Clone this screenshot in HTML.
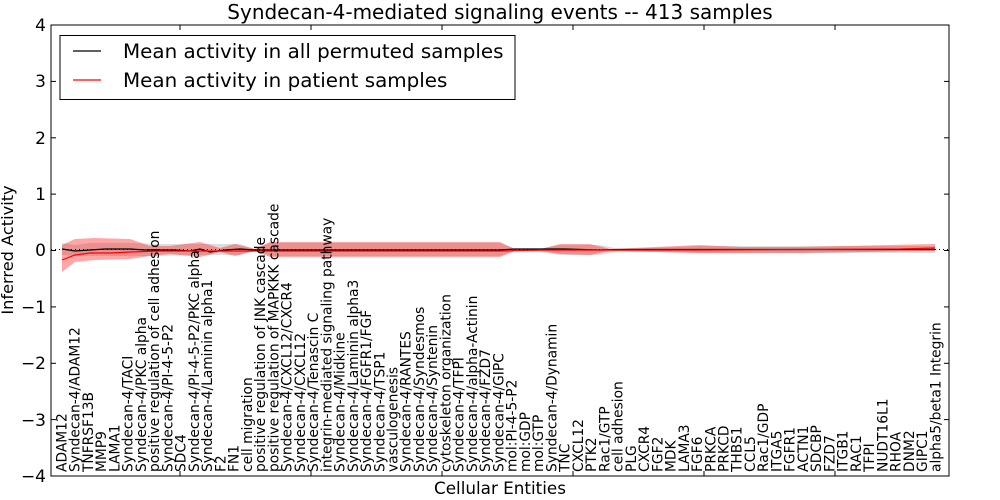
<!DOCTYPE html>
<html><head><meta charset="utf-8"><style>
html,body{margin:0;padding:0;background:#fff;}
svg{display:block;font-family:"DejaVu Sans","Liberation Sans",sans-serif;}
.xl text{font-size:13.8px;}
</style></head><body>
<svg width="1000" height="500" viewBox="0 0 1000 500">
<rect width="1000" height="500" fill="#fff"/>
<polygon fill="#bbbbbb" fill-opacity="0.5" points="62,243 75,245 90,243 130,243 160,244 200,244 240,244 255,249 270,243 500,243 515,249 540,249 560,245 600,245 620,249 700,246 935,246 935,253 700,253 620,251 600,255 560,255 540,252 515,251 500,256 270,256 255,250 240,255 200,255 160,256 130,256 90,256 75,256 62,255"/>
<polygon fill="#ff0000" fill-opacity="0.35" points="62,245 75,239 95,238 130,239 150,246 170,246 200,242 220,248 235,244 255,249 270,242 500,242 515,249 540,249 560,244 590,244 610,249 700,245 740,247 800,247 935,244 935,251 800,253 740,253 700,253 610,251 590,255 560,254 540,251 515,251 500,257 270,257 255,251 235,256 220,252 200,257 170,254 150,256 130,259 95,260 75,262 62,272"/>
<line x1="51" y1="249.5" x2="949" y2="249.5" stroke="#000" stroke-width="1" stroke-dasharray="1,3"/>
<polyline fill="none" stroke="#000" stroke-width="1.2" points="62,249 75,251 90,250 105,249 130,249 145,250 160,250 175,250 190,251 200,249 210,252 225,250 240,249 255,250 270,250 500,250 515,249 540,249 550,249 565,249 600,250 620,249.5 935,249.5"/>
<polyline fill="none" stroke="#ff0000" stroke-width="1.2" points="62,260 75,255 90,253 110,253 130,252 160,251 200,251 300,251 500,251 540,250 700,250 800,249.5 900,249 935,248"/>
<rect x="51" y="25" width="898" height="451" fill="none" stroke="#000" stroke-width="1"/>
<g stroke="#000" stroke-width="1">
<line x1="51" y1="25" x2="56" y2="25"/><line x1="51" y1="81.4" x2="56" y2="81.4"/><line x1="51" y1="137.8" x2="56" y2="137.8"/><line x1="51" y1="194.1" x2="56" y2="194.1"/><line x1="51" y1="250.5" x2="56" y2="250.5"/><line x1="51" y1="306.9" x2="56" y2="306.9"/><line x1="51" y1="363.3" x2="56" y2="363.3"/><line x1="51" y1="419.6" x2="56" y2="419.6"/>
<line x1="944" y1="81.4" x2="949" y2="81.4"/><line x1="944" y1="137.8" x2="949" y2="137.8"/><line x1="944" y1="194.1" x2="949" y2="194.1"/><line x1="944" y1="250.5" x2="949" y2="250.5"/><line x1="944" y1="306.9" x2="949" y2="306.9"/><line x1="944" y1="363.3" x2="949" y2="363.3"/><line x1="944" y1="419.6" x2="949" y2="419.6"/>
<line x1="180" y1="25" x2="180" y2="30"/><line x1="311" y1="25" x2="311" y2="30"/><line x1="442" y1="25" x2="442" y2="30"/><line x1="573" y1="25" x2="573" y2="30"/><line x1="704" y1="25" x2="704" y2="30"/><line x1="835" y1="25" x2="835" y2="30"/>
<line x1="180" y1="476" x2="180" y2="471"/><line x1="311" y1="476" x2="311" y2="471"/><line x1="442" y1="476" x2="442" y2="471"/><line x1="573" y1="476" x2="573" y2="471"/><line x1="704" y1="476" x2="704" y2="471"/><line x1="835" y1="476" x2="835" y2="471"/>
</g>
<g font-size="17" text-anchor="end">
<text x="46" y="31">4</text><text x="46" y="87">3</text><text x="46" y="144">2</text><text x="46" y="200">1</text><text x="46" y="256">0</text><text x="46" y="313">−1</text><text x="46" y="369">−2</text><text x="46" y="426">−3</text><text x="46" y="482">−4</text>
</g>
<text x="500" y="19" font-size="20" text-anchor="middle">Syndecan-4-mediated signaling events -- 413 samples</text>
<text x="500" y="494" font-size="16.8" text-anchor="middle">Cellular Entities</text>
<text transform="translate(13,250) rotate(-90)" font-size="16.2" text-anchor="middle">Inferred Activity</text>
<rect x="60" y="35.5" width="455" height="64" fill="#fff" stroke="#000" stroke-width="1"/>
<line x1="73" y1="51" x2="101" y2="51" stroke="#000" stroke-width="1.2"/>
<line x1="73" y1="80" x2="101" y2="80" stroke="#ff0000" stroke-width="1.2"/>
<text x="123" y="58" font-size="19.9">Mean activity in all permuted samples</text>
<text x="123" y="87" font-size="19.9">Mean activity in patient samples</text>
<g class="xl">
<text transform="translate(66.5,472) rotate(-90)">ADAM12</text>
<text transform="translate(79.7,472) rotate(-90)">Syndecan-4/ADAM12</text>
<text transform="translate(93.0,472) rotate(-90)">TNFRSF13B</text>
<text transform="translate(106.2,472) rotate(-90)">MMP9</text>
<text transform="translate(119.5,472) rotate(-90)">LAMA1</text>
<text transform="translate(132.7,472) rotate(-90)">Syndecan-4/TACI</text>
<text transform="translate(145.9,472) rotate(-90)">Syndecan-4/PKC alpha</text>
<text transform="translate(159.2,472) rotate(-90)">positive regulation of cell adhesion</text>
<text transform="translate(172.4,472) rotate(-90)">Syndecan-4/PI-4-5-P2</text>
<text transform="translate(185.7,472) rotate(-90)">SDC4</text>
<text transform="translate(198.9,472) rotate(-90)">Syndecan-4/PI-4-5-P2/PKC alpha</text>
<text transform="translate(212.1,472) rotate(-90)">Syndecan-4/Laminin alpha1</text>
<text transform="translate(225.4,472) rotate(-90)">F2</text>
<text transform="translate(238.6,472) rotate(-90)">FN1</text>
<text transform="translate(251.9,472) rotate(-90)">cell migration</text>
<text transform="translate(265.1,472) rotate(-90)">positive regulation of JNK cascade</text>
<text transform="translate(278.3,472) rotate(-90)">positive regulation of MAPKKK cascade</text>
<text transform="translate(291.6,472) rotate(-90)">Syndecan-4/CXCL12/CXCR4</text>
<text transform="translate(304.8,472) rotate(-90)">Syndecan-4/CXCL12</text>
<text transform="translate(318.1,472) rotate(-90)">Syndecan-4/Tenascin C</text>
<text transform="translate(331.3,472) rotate(-90)">integrin-mediated signaling pathway</text>
<text transform="translate(344.5,472) rotate(-90)">Syndecan-4/Midkine</text>
<text transform="translate(357.8,472) rotate(-90)">Syndecan-4/Laminin alpha3</text>
<text transform="translate(371.0,472) rotate(-90)">Syndecan-4/FGFR1/FGF</text>
<text transform="translate(384.3,472) rotate(-90)">Syndecan-4/TSP1</text>
<text transform="translate(397.5,472) rotate(-90)">vasculogenesis</text>
<text transform="translate(410.7,472) rotate(-90)">Syndecan-4/RANTES</text>
<text transform="translate(424.0,472) rotate(-90)">Syndecan-4/Syndesmos</text>
<text transform="translate(437.2,472) rotate(-90)">Syndecan-4/Syntenin</text>
<text transform="translate(450.5,472) rotate(-90)">cytoskeleton organization</text>
<text transform="translate(463.7,472) rotate(-90)">Syndecan-4/TFPI</text>
<text transform="translate(476.9,472) rotate(-90)">Syndecan-4/alpha-Actinin</text>
<text transform="translate(490.2,472) rotate(-90)">Syndecan-4/FZD7</text>
<text transform="translate(503.4,472) rotate(-90)">Syndecan-4/GIPC</text>
<text transform="translate(516.7,472) rotate(-90)">mol:PI-4-5-P2</text>
<text transform="translate(529.9,472) rotate(-90)">mol:GDP</text>
<text transform="translate(543.1,472) rotate(-90)">mol:GTP</text>
<text transform="translate(556.4,472) rotate(-90)">Syndecan-4/Dynamin</text>
<text transform="translate(569.6,472) rotate(-90)">TNC</text>
<text transform="translate(582.9,472) rotate(-90)">CXCL12</text>
<text transform="translate(596.1,472) rotate(-90)">PTK2</text>
<text transform="translate(609.3,472) rotate(-90)">Rac1/GTP</text>
<text transform="translate(622.6,472) rotate(-90)">cell adhesion</text>
<text transform="translate(635.8,472) rotate(-90)">PLG</text>
<text transform="translate(649.1,472) rotate(-90)">CXCR4</text>
<text transform="translate(662.3,472) rotate(-90)">FGF2</text>
<text transform="translate(675.5,472) rotate(-90)">MDK</text>
<text transform="translate(688.8,472) rotate(-90)">LAMA3</text>
<text transform="translate(702.0,472) rotate(-90)">FGF6</text>
<text transform="translate(715.3,472) rotate(-90)">PRKCA</text>
<text transform="translate(728.5,472) rotate(-90)">PRKCD</text>
<text transform="translate(741.7,472) rotate(-90)">THBS1</text>
<text transform="translate(755.0,472) rotate(-90)">CCL5</text>
<text transform="translate(768.2,472) rotate(-90)">Rac1/GDP</text>
<text transform="translate(781.5,472) rotate(-90)">ITGA5</text>
<text transform="translate(794.7,472) rotate(-90)">FGFR1</text>
<text transform="translate(807.9,472) rotate(-90)">ACTN1</text>
<text transform="translate(821.2,472) rotate(-90)">SDCBP</text>
<text transform="translate(834.4,472) rotate(-90)">FZD7</text>
<text transform="translate(847.7,472) rotate(-90)">ITGB1</text>
<text transform="translate(860.9,472) rotate(-90)">RAC1</text>
<text transform="translate(874.1,472) rotate(-90)">TFPI</text>
<text transform="translate(887.4,472) rotate(-90)">NUDT16L1</text>
<text transform="translate(900.6,472) rotate(-90)">RHOA</text>
<text transform="translate(913.9,472) rotate(-90)">DNM2</text>
<text transform="translate(927.1,472) rotate(-90)">GIPC1</text>
<text transform="translate(940.3,472) rotate(-90)">alpha5/beta1 Integrin</text>
</g>
</svg>
</body></html>
